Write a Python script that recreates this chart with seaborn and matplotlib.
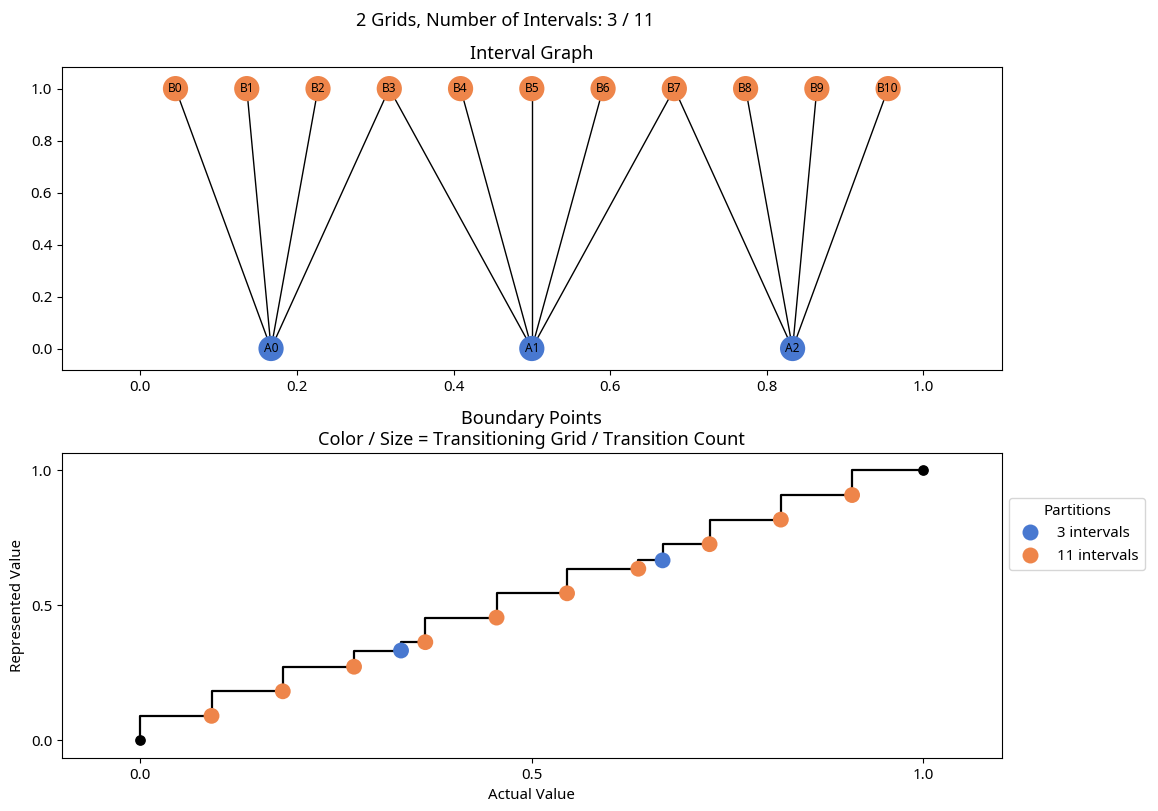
import matplotlib.pyplot as plt
import pandas as pd
import seaborn as sns
import numpy as np

# interval graph nodes (centres of the intervals)
a_names = ["A0", "A1", "A2"]
a_x = [0.167, 0.5, 0.833]
b_names = ["B0", "B1", "B2", "B3", "B4", "B5", "B6", "B7", "B8", "B9", "B10"]
b_x = [0.045, 0.136, 0.227, 0.318, 0.409, 0.5, 0.591, 0.682, 0.773, 0.864, 0.955]
edges = [("A0", "B0"), ("A0", "B1"), ("A0", "B2"), ("A0", "B3"),
         ("A1", "B3"), ("A1", "B4"), ("A1", "B5"), ("A1", "B6"), ("A1", "B7"),
         ("A2", "B7"), ("A2", "B8"), ("A2", "B9"), ("A2", "B10")]

# boundary points
bound_x = [0.0, 0.091, 0.182, 0.273, 0.333, 0.364, 0.455, 0.545, 0.636, 0.667,
           0.727, 0.818, 0.909, 1.0]
bound_grid = ["end", "11 intervals", "11 intervals", "11 intervals", "3 intervals",
              "11 intervals", "11 intervals", "11 intervals", "11 intervals",
              "3 intervals", "11 intervals", "11 intervals", "11 intervals", "end"]
bound_count = [0, 1, 1, 1, 1, 1, 1, 1, 1, 1, 1, 1, 1, 0]


def main():
    plt.rcParams['font.family'] = ['Noto Sans', 'DejaVu Sans']
    plt.rcParams['font.size'] = 10.8
    pal = sns.color_palette("muted")
    colors = {"3 intervals": pal[0], "11 intervals": pal[1]}

    fig = plt.figure(figsize=(11.58, 8.11), dpi=100)
    ax1 = fig.add_axes([0.0535, 0.544, 0.8115, 0.373])
    ax2 = fig.add_axes([0.0535, 0.0654, 0.8115, 0.3761])

    # --- interval graph
    pos = {n: (x, 0.0) for n, x in zip(a_names, a_x)}
    pos.update({n: (x, 1.0) for n, x in zip(b_names, b_x)})
    for u, v in edges:
        ax1.plot([pos[u][0], pos[v][0]], [pos[u][1], pos[v][1]],
                 color="black", lw=1, zorder=1)
    nodes = pd.DataFrame({
        "name": a_names + b_names,
        "x": a_x + b_x,
        "y": [0.0] * len(a_names) + [1.0] * len(b_names),
        "grid": ["3 intervals"] * len(a_names) + ["11 intervals"] * len(b_names),
    })
    sns.scatterplot(data=nodes, x="x", y="y", hue="grid", palette=colors,
                    s=330, linewidth=0, ax=ax1, legend=False, zorder=2)
    for _, r in nodes.iterrows():
        ax1.text(r["x"], r["y"], r["name"], fontsize=8.6, ha="center",
                 va="center", zorder=3)
    ax1.set_xlim(-0.1, 1.1)
    ax1.set_ylim(-0.082, 1.082)
    ax1.set_xticks(np.arange(0, 1.01, 0.2))
    ax1.set_yticks(np.arange(0, 1.01, 0.2))
    ax1.set_xlabel("")
    ax1.set_ylabel("")
    ax1.set_title("Interval Graph", fontsize=13)

    # --- boundary points
    ax2.step(bound_x, bound_x, where="pre", color="black", lw=1.6, zorder=1)
    df = pd.DataFrame({"x": bound_x, "y": bound_x, "grid": bound_grid,
                       "count": bound_count})
    ends = df[df["grid"] == "end"]
    pts = df[df["grid"] != "end"]
    ax2.scatter(ends["x"], ends["y"], color="black", s=45, zorder=3)
    sns.scatterplot(data=pts, x="x", y="y", hue="grid", palette=colors,
                    hue_order=["3 intervals", "11 intervals"],
                    s=130, linewidth=0, ax=ax2, zorder=2)
    ax2.set_xlim(-0.1, 1.1)
    ax2.set_ylim(-0.065, 1.065)
    ax2.set_xticks([0, 0.5, 1.0])
    ax2.set_yticks([0, 0.5, 1.0])
    ax2.set_xlabel("Actual Value")
    ax2.set_ylabel("Represented Value")
    ax2.set_title("Boundary Points\nColor / Size = Transitioning Grid / Transition Count",
                  fontsize=13)
    handles, labels = ax2.get_legend_handles_labels()
    for h in handles:
        h.set_markersize(11.5)
    ax2.legend(handles, labels, title="Partitions", loc="upper left",
               bbox_to_anchor=(1.0, 0.877), fontsize=10.8, title_fontsize=10.8)

    fig.suptitle("2 Grids, Number of Intervals: 3 / 11", fontsize=13,
                 x=0.436, y=0.985)

    plt.savefig("out.png", dpi=100)
    plt.close()


if __name__ == "__main__":
    main()
